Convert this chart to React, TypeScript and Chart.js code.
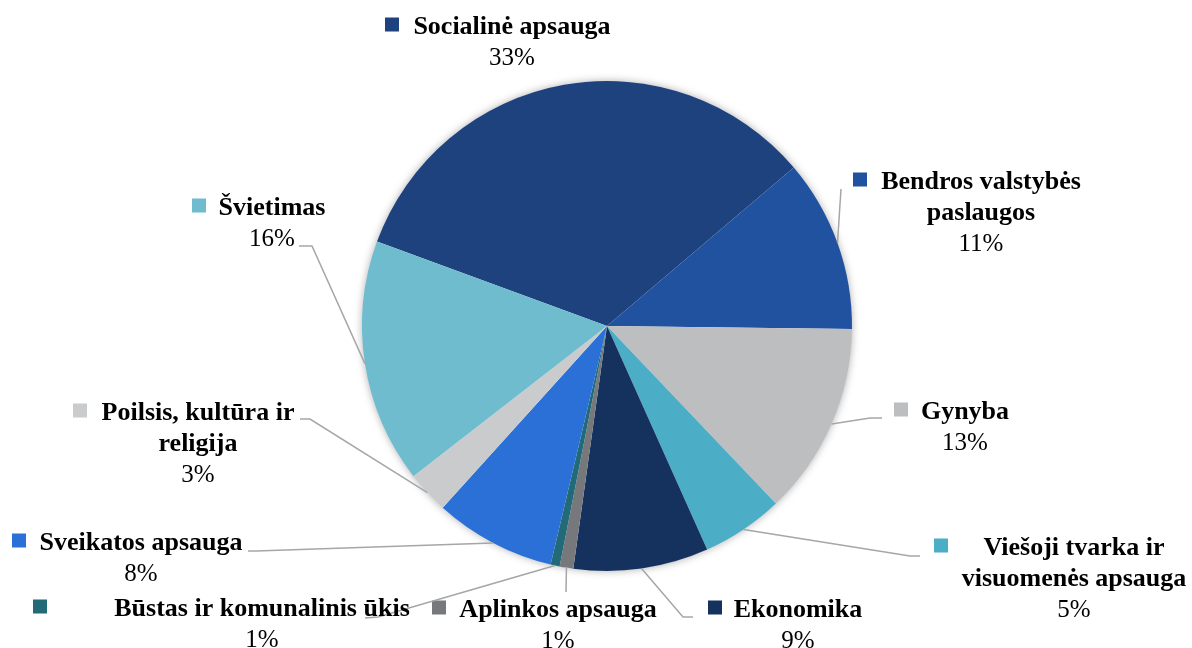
import React, { useEffect, useRef } from "react";
import { Chart, registerables } from "chart.js";

Chart.register(...registerables);

// ---- data ----
const categories: string[] = [
  "Socialinė apsauga",
  "Bendros valstybės paslaugos",
  "Gynyba",
  "Viešoji tvarka ir visuomenės apsauga",
  "Ekonomika",
  "Aplinkos apsauga",
  "Būstas ir komunalinis ūkis",
  "Sveikatos apsauga",
  "Poilsis, kultūra ir religija",
  "Švietimas",
];
const shares: number[] = [33.2, 11.4, 12.7, 5.4, 8.9, 0.9, 0.6, 8.0, 2.8, 16.1];

// ---- styles ----
const sliceColors: string[] = [
  "#1D427E",
  "#21529F",
  "#BDBEC0",
  "#4BADC6",
  "#15315E",
  "#76787B",
  "#236A78",
  "#2B70D6",
  "#CACBCD",
  "#6FBCCF",
];

// wrapped name lines (text layout of each label)
const nameLines: string[][] = [
  ["Socialinė apsauga"],
  ["Bendros valstybės", "paslaugos"],
  ["Gynyba"],
  ["Viešoji tvarka ir", "visuomenės apsauga"],
  ["Ekonomika"],
  ["Aplinkos apsauga"],
  ["Būstas ir komunalinis ūkis"],
  ["Sveikatos apsauga"],
  ["Poilsis, kultūra ir", "religija"],
  ["Švietimas"],
];

// label layout: text centre x, first baseline y, legend key x, leader anchor points
type LabelPos = { cx: number; y: number; keyX: number; leader: number[][] | null };
const labelLayout: LabelPos[] = [
  { cx: 512, y: 34, keyX: 385, leader: null },
  { cx: 981, y: 189, keyX: 853, leader: [[841, 189]] },
  { cx: 965, y: 419, keyX: 894, leader: [[882, 418], [870, 418]] },
  { cx: 1074, y: 555, keyX: 934, leader: [[920, 556], [910, 556]] },
  { cx: 798, y: 617, keyX: 708, leader: [[693, 617], [683, 617]] },
  { cx: 558, y: 617, keyX: 432, leader: [[566, 592]] },
  { cx: 262, y: 616, keyX: 33, leader: [[365, 618], [378, 617]] },
  { cx: 141, y: 550, keyX: 12, leader: [[248, 551], [256, 551]] },
  { cx: 198, y: 420, keyX: 73, leader: [[300, 419], [310, 419]] },
  { cx: 272, y: 215, keyX: 192, leader: [[299, 246], [312, 246]] },
];

const FONT = '"Liberation Serif", "Times New Roman", serif';
const LINE_H = 31;

const shadowPlugin = {
  id: "pieShadow",
  beforeDatasetsDraw(chart: any) {
    const arc = chart.getDatasetMeta(0).data[0];
    if (!arc) return;
    const ctx = chart.ctx;
    ctx.save();
    ctx.shadowColor = "rgba(0,0,0,0.35)";
    ctx.shadowBlur = 9;
    ctx.beginPath();
    ctx.arc(arc.x, arc.y, arc.outerRadius - 0.5, 0, Math.PI * 2);
    ctx.fillStyle = "#ffffff";
    ctx.fill();
    ctx.restore();
  },
};

const labelPlugin = {
  id: "outerLabels",
  afterDatasetsDraw(chart: any) {
    const ctx = chart.ctx;
    const meta = chart.getDatasetMeta(0);
    const total = shares.reduce((a, b) => a + b, 0);
    ctx.save();
    meta.data.forEach((arc: any, i: number) => {
      const lay = labelLayout[i];
      // leader line
      if (lay.leader) {
        const mid = (arc.startAngle + arc.endAngle) / 2;
        const px = arc.x + Math.cos(mid) * arc.outerRadius;
        const py = arc.y + Math.sin(mid) * arc.outerRadius;
        ctx.beginPath();
        ctx.moveTo(lay.leader[0][0], lay.leader[0][1]);
        for (let k = 1; k < lay.leader.length; k++) ctx.lineTo(lay.leader[k][0], lay.leader[k][1]);
        ctx.lineTo(px, py);
        ctx.strokeStyle = "#A6A6A6";
        ctx.lineWidth = 1.5;
        ctx.stroke();
      }
      // key
      ctx.fillStyle = sliceColors[i];
      ctx.fillRect(lay.keyX, lay.y - 16.5, 14, 14);
      // name lines
      ctx.fillStyle = "#000000";
      ctx.textAlign = "center";
      ctx.textBaseline = "alphabetic";
      ctx.font = `bold 26px ${FONT}`;
      const lines = nameLines[i];
      lines.forEach((ln, k) => {
        ctx.fillText(ln, lay.cx, lay.y + k * LINE_H);
      });
      ctx.font = `25px ${FONT}`;
      const pct = Math.round((shares[i] / total) * 100) + "%";
      ctx.fillText(pct, lay.cx, lay.y + lines.length * LINE_H);
    });
    ctx.restore();
  },
};

export default function App() {
  const ref = useRef<HTMLCanvasElement | null>(null);
  useEffect(() => {
    if (!ref.current) return;
    const chart = new Chart(ref.current, {
      type: "pie",
      data: {
        labels: categories,
        datasets: [
          {
            data: shares,
            backgroundColor: sliceColors,
            borderWidth: 0,
          },
        ],
      },
      options: {
        responsive: false,
        animation: false,
        rotation: -69.85,
        layout: { padding: { left: 362, right: 340, top: 81, bottom: 77 } },
        plugins: {
          legend: { display: false },
          tooltip: { enabled: false },
        },
      },
      plugins: [shadowPlugin, labelPlugin],
    });
    return () => chart.destroy();
  }, []);
  return (
    <div style={{ position: "absolute", left: 0, top: 0, width: 1192, height: 648, background: "#ffffff" }}>
      <canvas ref={ref} width={1192} height={648} style={{ width: 1192, height: 648 }} />
    </div>
  );
}
